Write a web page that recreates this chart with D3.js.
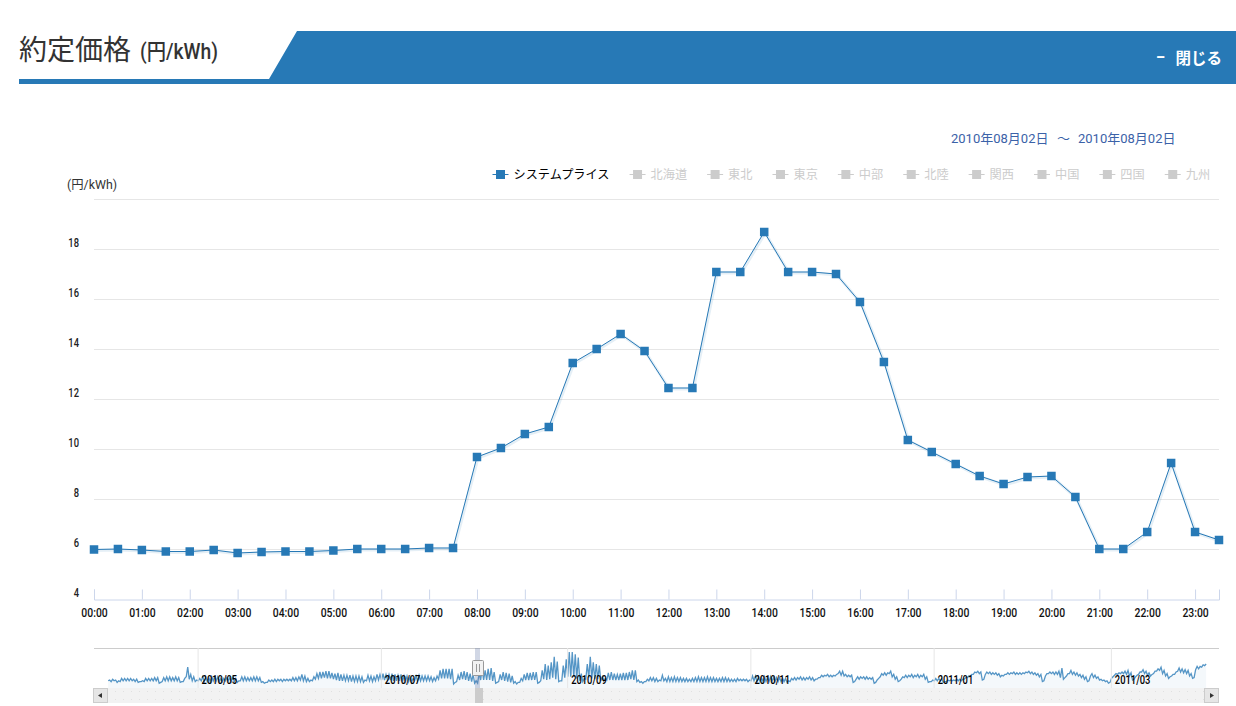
<!DOCTYPE html>
<html lang="ja">
<head>
<meta charset="utf-8">
<style>
  html, body { margin: 0; padding: 0; background: #fff; }
  svg { display: block; }
  text { font-family: Roboto, "Noto Sans CJK JP", sans-serif; }
  .jp { font-family: "Noto Sans CJK JP", sans-serif; }
</style>
</head>
<body>
<script src="https://cdn.jsdelivr.net/npm/d3@7"></script>
<script>
var times = ["00:00","00:30","01:00","01:30","02:00","02:30","03:00","03:30","04:00","04:30","05:00","05:30",
  "06:00","06:30","07:00","07:30","08:00","08:30","09:00","09:30","10:00","10:30","11:00","11:30",
  "12:00","12:30","13:00","13:30","14:00","14:30","15:00","15:30","16:00","16:30","17:00","17:30",
  "18:00","18:30","19:00","19:30","20:00","20:30","21:00","21:30","22:00","22:30","23:00","23:30"];
var systemPrice = [5.98,6.0,5.96,5.9,5.9,5.96,5.84,5.88,5.9,5.9,5.94,6.0,6.0,6.0,6.04,6.04,
  9.68,10.04,10.6,10.88,13.44,14.0,14.6,13.92,12.44,12.44,17.08,17.08,18.68,17.08,17.08,17.0,
  15.88,13.48,10.36,9.88,9.4,8.92,8.6,8.88,8.92,8.08,6.0,6.0,6.68,9.44,6.68,6.36];
var yTicks = [4,6,8,10,12,14,16,18,20];
var legendNames = ["システムプライス","北海道","東北","東京","中部","北陸","関西","中国","四国","九州"];
var navMonths = ["2010/05","2010/07","2010/09","2010/11","2011/01","2011/03"];

// navigator: daily high / low from 2010/04/01
var navHigh = [10,11,10,9,12,12,12,12,11,11,
  8,9,12,12,12,13,13,7,13,14,
  14,13,14,13,8,12,26,17,14,10,
  12,14,14,13,14,14,14,12,12,13,
  13,14,12,9,14,14,13,13,14,14,
  13,8,7,10,10,11,11,11,11,11,
  11,13,13,14,17,15,12,10,14,18,
  20,20,21,21,19,18,19,17,16,16,
  16,15,15,15,14,10,16,15,14,17,
  17,18,17,17,18,17,16,17,15,15,
  14,12,15,16,15,15,15,14,13,15,
  22,24,24,24,24,7,16,20,21,20,
  18,17,9,19,24,22,24,25,20,7,
  17,20,19,18,15,8,7,12,17,19,
  19,20,20,7,22,30,28,32,39,33,
  9,28,36,45,45,42,38,18,12,30,
  39,32,30,28,14,12,19,20,18,17,
  18,19,19,20,22,22,10,8,8,11,
  13,13,12,10,16,12,14,13,14,13,
  13,12,12,11,12,13,14,13,13,14,
  13,13,12,12,13,13,12,11,11,12,
  11,11,11,10,15,15,14,13,14,13,
  14,13,13,13,12,12,9,12,13,13,
  14,13,13,14,13,11,13,16,16,17,
  16,16,17,21,21,17,16,16,8,14,
  14,14,14,13,13,7,12,18,19,19,
  21,17,14,9,14,16,16,17,16,17,
  16,17,14,8,10,12,12,12,8,10,
  10,10,11,11,11,13,15,17,20,21,
  20,11,20,20,19,19,18,16,17,19,
  19,20,19,19,19,20,21,20,19,18,
  17,9,18,20,20,20,21,25,13,18,
  22,20,19,17,16,14,9,18,16,14,
  11,10,9,7,14,18,19,20,21,22,
  19,11,16,20,23,21,19,17,21,24,
  26,22,18,14,17,20,25,24,23,22,
  18,13,27,27,29,30];
var navLow = [9,8,9,7,8,9,9,9,9,8,
  7,8,8,9,9,9,9,6,8,9,
  9,9,9,9,7,8,14,11,9,8,
  9,9,8,8,8,9,9,8,8,9,
  9,8,8,7,9,9,9,9,9,9,
  9,7,6,7,8,8,8,9,8,9,
  9,9,9,9,10,9,8,8,9,11,
  12,12,13,12,12,11,10,9,9,9,
  9,8,8,8,8,7,9,9,8,9,
  10,10,10,10,10,9,9,9,8,8,
  8,7,9,9,9,9,9,9,8,9,
  11,12,12,12,11,5,8,10,11,10,
  9,8,6,6,10,10,10,10,9,6,
  8,10,9,8,7,6,5,7,9,10,
  10,10,10,6,9,11,10,11,13,11,
  8,9,13,14,14,14,12,9,8,11,
  13,12,11,11,9,9,10,10,10,10,
  10,10,10,10,11,10,8,7,6,8,
  9,9,8,8,9,9,8,8,8,8,
  8,8,8,8,8,8,8,8,8,8,
  8,8,8,8,8,8,8,8,8,8,
  9,9,9,8,9,9,8,8,8,8,
  8,8,8,8,8,8,7,8,10,10,
  11,10,10,11,10,9,11,13,14,15,
  14,14,15,18,16,15,14,14,7,11,
  11,12,11,11,11,6,10,14,16,16,
  18,14,11,8,11,13,13,14,13,14,
  13,14,11,7,8,9,9,9,7,8,
  9,9,9,9,9,11,13,15,17,19,
  18,10,17,18,17,17,16,14,15,17,
  17,18,17,17,17,18,19,18,17,16,
  14,8,15,18,18,17,17,13,11,15,
  18,17,16,15,13,11,8,15,13,12,
  10,9,8,6,12,16,17,18,18,17,
  15,10,14,17,20,18,16,15,18,21,
  22,18,15,12,15,17,21,20,19,18,
  15,12,23,24,26,28];

var blue = "#2779b6";
var svg = d3.select("body").append("svg").attr("width", 1236).attr("height", 706);

// the site's condensed font is not available, so squeeze the text instead
function narrow(sel, ratio) {
  sel.each(function() {
    d3.select(this).attr("textLength", this.getComputedTextLength() * ratio)
      .attr("lengthAdjust", "spacingAndGlyphs");
  });
}

// header band
svg.append("path").attr("fill", blue)
  .attr("d", "M19,79H269L297,31H1236V84H19Z");
svg.append("text").attr("class", "jp").attr("x", 19).attr("y", 60).attr("fill", "#333")
  .attr("font-size", 28).text("約定価格");
svg.append("text").attr("x", 140).attr("y", 59).attr("fill", "#333").attr("font-size", 22)
  .attr("font-weight", 500).attr("textLength", 78).attr("lengthAdjust", "spacingAndGlyphs").text("(円/kWh)");
svg.append("text").attr("x", 1156).attr("y", 63).attr("fill", "#fff").attr("font-size", 17)
  .attr("font-weight", "bold").text("−");
svg.append("text").attr("class", "jp").attr("x", 1222).attr("y", 64)
  .attr("text-anchor", "end").attr("fill", "#fff").attr("font-size", 15.5).attr("font-weight", "bold")
  .text("閉じる");

var dateFill = "#3b62a8";
svg.append("text").attr("x", 951).attr("y", 142.5).attr("fill", dateFill).attr("font-size", 13).text("2010年08月02日");
svg.append("text").attr("x", 1057).attr("y", 142.5).attr("fill", dateFill).attr("font-size", 13).text("～");
svg.append("text").attr("x", 1078).attr("y", 142.5).attr("fill", dateFill).attr("font-size", 13).text("2010年08月02日");

// main chart
var x = d3.scalePoint().domain(times).range([94, 1219]);
var y = d3.scaleLinear().domain([4, 20]).range([599, 199]);

svg.append("g").attr("transform", "translate(94,0)")
  .call(d3.axisRight(y).tickValues(yTicks.slice(1)).tickSize(1125).tickFormat(""))
  .call(function(g) {
    g.select(".domain").remove();
    g.selectAll("line").attr("stroke", "#e6e6e6");
  });

svg.append("g").attr("transform", "translate(79,-6.5)")
  .call(d3.axisLeft(y).tickValues(yTicks.slice(0, -1)).tickSize(0).tickPadding(0))
  .call(function(g) {
    g.select(".domain").remove();
    g.selectAll("text").attr("font-size", 13).attr("font-weight", 500).attr("fill", "#222")
      .style("font-family", "Roboto, sans-serif").call(narrow, 0.72);
  });

svg.append("text").attr("x", 67).attr("y", 189).attr("font-size", 12).attr("fill", "#333")
  .attr("textLength", 50).attr("lengthAdjust", "spacingAndGlyphs").text("(円/kWh)");

svg.append("g").attr("transform", "translate(0,599.5)")
  .call(d3.axisBottom(x).tickValues(times.filter(function(t) { return t.slice(3) === "00"; }))
    .tickSize(-10).tickPadding(8))
  .call(function(g) {
    g.select(".domain").attr("stroke", "#ccd6eb");
    g.selectAll("line").attr("stroke", "#ccd6eb");
    g.selectAll("text").attr("font-size", 13).attr("font-weight", 500).attr("fill", "#111")
      .style("font-family", "Roboto, sans-serif").call(narrow, 0.8);
  });

var line = d3.line()
  .x(function(d, i) { return x(times[i]); })
  .y(function(d) { return y(d); });

svg.append("path").datum(systemPrice).attr("d", line).attr("fill", "none")
  .attr("stroke", blue).attr("stroke-opacity", 0.12).attr("stroke-width", 3)
  .attr("transform", "translate(1,1)");
svg.append("path").datum(systemPrice).attr("d", line).attr("fill", "none")
  .attr("stroke", blue).attr("stroke-width", 1);
svg.append("g").selectAll("rect").data(systemPrice).enter().append("rect")
  .attr("x", function(d, i) { return x(times[i]) - 4.25; })
  .attr("y", function(d) { return y(d) - 4.25; })
  .attr("width", 8.5).attr("height", 8.5)
  .attr("fill", blue);

// legend, laid out from the measured text widths
var legendX = 492.5;
legendNames.forEach(function(name, i) {
  var on = i === 0;
  var c = on ? blue : "#cccccc";
  var g = svg.append("g").attr("transform", "translate(" + legendX + ",174.5)");
  g.append("line").attr("x2", 16).attr("stroke", c);
  g.append("rect").attr("x", 3.5).attr("y", -4.5).attr("width", 9).attr("height", 9).attr("fill", c);
  var t = g.append("text").attr("class", "jp").attr("x", 21).attr("y", 4.5).attr("font-size", 12.2)
    .attr("fill", on ? "#000" : "#cccccc").text(name);
  legendX += 21 + t.node().getComputedTextLength() + 20;
});

// navigator
var navStart = new Date(2010, 3, 1);
var navX = d3.scaleTime().domain([navStart, new Date(2011, 3, 1)]).range([107.5, 1204]);
var navY = d3.scaleLinear().domain([0, 50]).range([688, 648]);
var navDates = navMonths.map(function(m) {
  var p = m.split("/");
  return new Date(+p[0], +p[1] - 1, 1);
});

var navSeries = [];
navHigh.forEach(function(h, i) {
  var day = d3.timeDay.offset(navStart, i);
  navSeries.push({ date: d3.timeHour.offset(day, 5), value: navLow[i] });
  navSeries.push({ date: d3.timeHour.offset(day, 17), value: h });
});

var defs = svg.append("defs");
var dots = defs.append("pattern").attr("id", "dots").attr("width", 8).attr("height", 8)
  .attr("patternUnits", "userSpaceOnUse");
dots.append("rect").attr("width", 8).attr("height", 8).attr("fill", "#f2f2f2");
dots.append("rect").attr("x", 3).attr("y", 3).attr("width", 1).attr("height", 1).attr("fill", "#e0e0e0");

svg.append("rect").attr("x", 93).attr("y", 688).attr("width", 1126).attr("height", 15).attr("fill", "url(#dots)");

svg.append("path").datum(navSeries).attr("fill", blue).attr("fill-opacity", 0.05)
  .attr("d", d3.area().x(function(d) { return navX(d.date); }).y0(688).y1(function(d) { return navY(d.value); }));

svg.append("line").attr("x1", 94).attr("x2", 1219).attr("y1", 648.5).attr("y2", 648.5).attr("stroke", "#cccccc");

var navAxis = svg.append("g").attr("transform", "translate(0,688)")
  .call(d3.axisBottom(navX).tickValues(navDates).tickSize(-40).tickFormat(d3.timeFormat("%Y/%m")))
  .call(function(g) {
    g.select(".domain").remove();
    g.selectAll("line").attr("stroke", "#e6e6e6");
  });

svg.append("path").datum(navSeries).attr("fill", "none").attr("stroke", blue).attr("stroke-opacity", 0.78)
  .attr("stroke-width", 1.3)
  .attr("d", d3.line().x(function(d) { return navX(d.date); }).y(function(d) { return navY(d.value); }));

navAxis.raise();
navAxis.selectAll("text")
  .attr("text-anchor", "start").attr("x", 3.5).attr("y", -8).attr("dy", "0.32em")
  .attr("font-size", 13).attr("font-weight", 500).attr("fill", "#000")
  .style("font-family", "Roboto, sans-serif").call(narrow, 0.72);

// selected day: mask, handle and scrollbar thumb
var selDay = new Date(2010, 7, 2);
var selX = navX(selDay);
svg.append("rect").attr("x", selX - 2).attr("y", 648).attr("width", 5).attr("height", 40)
  .attr("fill", "#667aa8").attr("fill-opacity", 0.3);
svg.append("rect").attr("x", selX - 4.5).attr("y", 660.5).attr("width", 11).attr("height", 15).attr("rx", 1)
  .attr("fill", "#f2f2f2").attr("stroke", "#999");
[-0.5, 2.5].forEach(function(dx) {
  svg.append("line").attr("x1", selX + dx).attr("x2", selX + dx).attr("y1", 664).attr("y2", 672).attr("stroke", "#999");
});
svg.append("rect").attr("x", selX - 2).attr("y", 688).attr("width", 8).attr("height", 15).attr("fill", "#cccccc");

// scrollbar buttons
[[93, "M102,693V698L98,695.5Z"], [1204, "M1210,693V698L1214,695.5Z"]].forEach(function(b) {
  svg.append("rect").attr("x", b[0] + 0.5).attr("y", 688.5).attr("width", 14).attr("height", 14)
    .attr("fill", "#e6e6e6").attr("stroke", "#cccccc");
  svg.append("path").attr("d", b[1]).attr("fill", "#333");
});
</script>
</body>
</html>
